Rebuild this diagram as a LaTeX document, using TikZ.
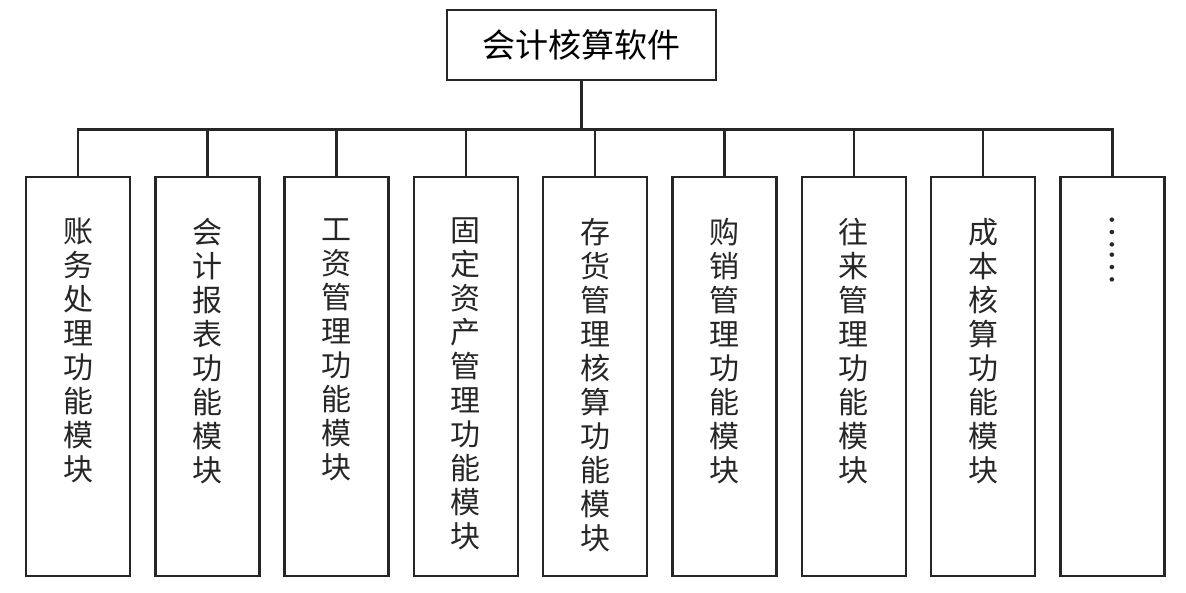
\documentclass[tikz,border=0pt]{standalone}
\usepackage{fontspec}
\newfontfamily\cjk{Noto Sans CJK SC}
\tikzset{
  boxline/.style={draw=black!85, line width=2.4pt},
  rootbox/.style={boxline, rectangle, minimum width=269pt, minimum height=70pt, inner sep=0pt,
    font={\cjk\fontsize{33}{36}\selectfont}},
  modbox/.style={boxline, rectangle, minimum width=104pt, minimum height=399pt, inner sep=0pt},
  modtext/.style={anchor=north, inner sep=0pt, align=center, text=black!85,
    font={\cjk\fontsize{30}{34}\selectfont}},
  wire/.style={draw=black!85, line width=2.4pt, line join=miter}
}
\begin{document}
\begin{tikzpicture}[x=1pt,y=-1pt]
\useasboundingbox (0,0) rectangle (1186,593);
\node[rootbox] (root) at (581.5,45) {会计核算软件};
\coordinate (bus) at (0,129.5);
\foreach \i/\t in {1/{账\\务\\处\\理\\功\\能\\模\\块},
                   2/{会\\计\\报\\表\\功\\能\\模\\块},
                   3/{工\\资\\管\\理\\功\\能\\模\\块},
                   4/{固\\定\\资\\产\\管\\理\\功\\能\\模\\块},
                   5/{存\\货\\管\\理\\核\\算\\功\\能\\模\\块},
                   6/{购\\销\\管\\理\\功\\能\\模\\块},
                   7/{往\\来\\管\\理\\功\\能\\模\\块},
                   8/{成\\本\\核\\算\\功\\能\\模\\块}}{
  \pgfmathsetmacro\cx{78+129.3*(\i-1)}
  \node[modbox] (b\i) at (\cx,376.5) {};
  \node[modtext] (t\i) at (\cx,218) {\t};
}
\node[modbox] (b9) at (1112.5,376.5) {};
\node[rotate=-90, inner sep=0pt, text=black!85, font={\cjk\fontsize{33}{36}\selectfont}] (t9) at (1112.5,249.5) {……};
\draw[wire] (root.south) -- (root.south |- bus);
\draw[wire] (b1.north) -- (b1.north |- bus) -- (b9.north |- bus) -- (b9.north);
\foreach \i in {2,...,8}{
  \draw[wire] (b\i.north) -- (b\i.north |- bus);
}
\end{tikzpicture}
\end{document}
